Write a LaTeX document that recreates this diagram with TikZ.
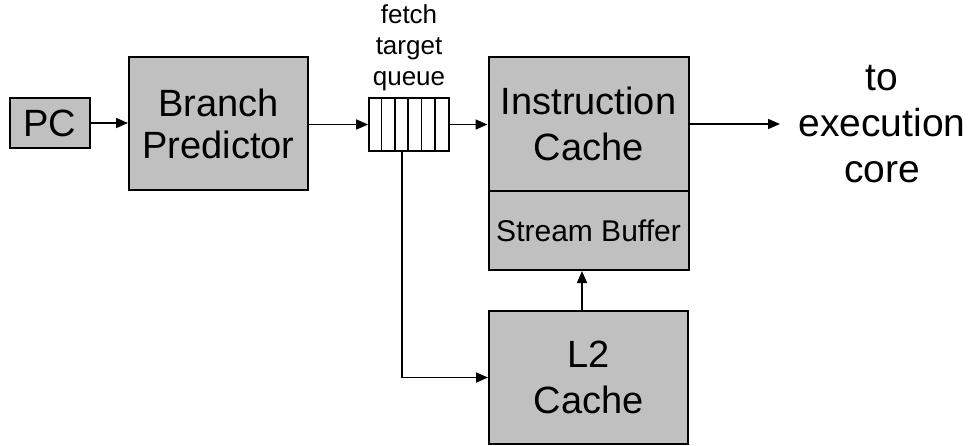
\documentclass[tikz,border=0pt]{standalone}
\usepackage{fontspec}
\setmainfont{Liberation Sans}
\usetikzlibrary{arrows.meta,calc}
\tikzset{
  block/.style={draw=black, line width=2pt, fill=boxgray, inner sep=0pt,
    align=center, font=\fontsize{38}{46}\selectfont},
  arr/.style={line width=1.7pt, -{Triangle[length=12pt,width=10pt]}},
}
\definecolor{boxgray}{HTML}{C0C0C0}
\begin{document}
\begin{tikzpicture}[x=1pt,y=-1pt]
  \useasboundingbox (0,0) rectangle (971,445);

  % processing blocks
  \node[block, minimum width=80pt, minimum height=50pt] (pc) at (50,123) {PC};
  \node[block, minimum width=179pt, minimum height=133pt] (bp) at (218.5,123.5) {Branch\\[-4pt]Predictor};
  \node[block, minimum width=200pt, minimum height=134pt] (ic) at (588.5,124) {Instruction\\Cache};
  \node[block, minimum width=200pt, minimum height=79pt,
        font=\fontsize{30}{36}\selectfont] (sb) at (588.5,230.5) {Stream Buffer};
  \node[block, minimum width=199pt, minimum height=133pt] (l2) at (588.5,377.5) {L2\\Cache};

  % fetch target queue with six slots
  \node[draw=black, line width=1.7pt, fill=white, minimum width=80pt, minimum height=53pt,
        inner sep=0pt] (q) at (409,124.5) {};
  \foreach \k in {1,...,5}
    \draw[line width=1.7pt] ($(q.north west)+(\k*80/6,0)$) -- ($(q.south west)+(\k*80/6,0)$);
  \node[align=center, font=\fontsize{26}{31}\selectfont, inner sep=0pt] (ql) at (409,48)
    {fetch\\target\\queue};

  % output label
  \node[align=center, font=\fontsize{39}{46}\selectfont, inner sep=0pt] (out) at (882,124)
    {to\\execution\\core};
  \coordinate (outend) at (780,124);

  % connections
  \draw[arr] (pc.east) -- (bp.west |- pc.east);
  \draw[arr] (bp.east |- q.west) -- (q.west);
  \draw[arr] (q.east) -- (ic.west |- q.east);
  \draw[arr] (ic.east) -- (outend);
  \draw[arr] ([xshift=34pt]q.south west) |- (l2.west);
  \draw[arr] ([xshift=-6.5pt]l2.north) -- ([xshift=-6.5pt]sb.south);
\end{tikzpicture}
\end{document}
